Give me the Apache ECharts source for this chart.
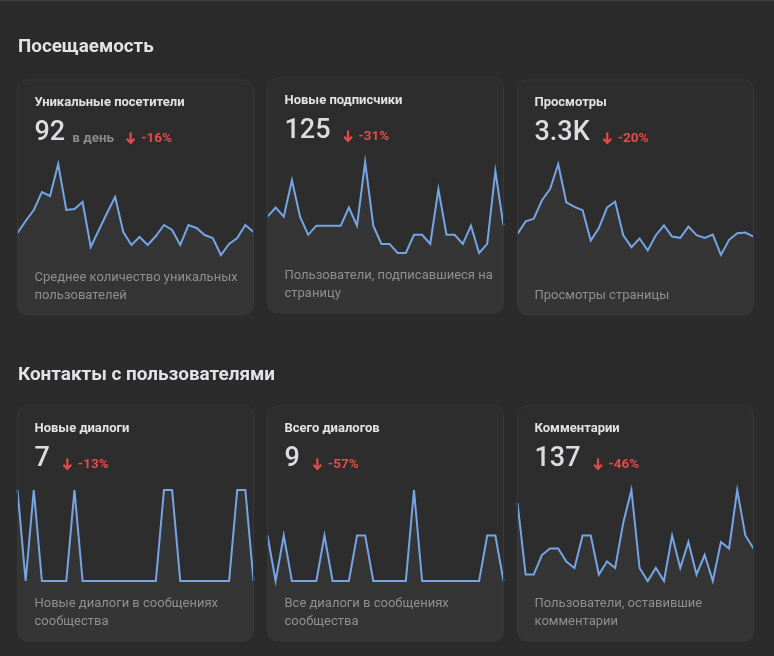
<!DOCTYPE html>
<html>
<head>
<meta charset="utf-8">
<script src="https://cdn.jsdelivr.net/npm/echarts@6/dist/echarts.min.js"></script>
<style>
html,body{margin:0;padding:0;background:#2b2b2b;}
#chart{width:774px;height:656px;}
</style>
</head>
<body>
<div id="chart"></div>
<script>
// ---- data ----
const sectionTitles = ['Посещаемость', 'Контакты с пользователями'];
const cardTitles = ['Уникальные посетители', 'Новые подписчики', 'Просмотры', 'Новые диалоги', 'Всего диалогов', 'Комментарии'];
const cardValues = ['92', '125', '3.3K', '7', '9', '137'];
const cardUnits = ['в день', '', '', '', '', ''];
const cardChanges = ['-16%', '-31%', '-20%', '-13%', '-57%', '-46%'];
const cardDescriptions = [
  ['Среднее количество уникальных', 'пользователей'],
  ['Пользователи, подписавшиеся на', 'страницу'],
  ['Просмотры страницы'],
  ['Новые диалоги в сообщениях', 'сообщества'],
  ['Все диалоги в сообщениях', 'сообщества'],
  ['Пользователи, оставившие', 'комментарии']
];
const days = ['1','2','3','4','5','6','7','8','9','10','11','12','13','14','15','16','17','18','19','20','21','22','23','24','25','26','27','28','29','30'];
const uniqueVisitors = [82,94,105,123,119,151,105,106,113,68,85,102,118,83,70,78,70,79,90,85,70,90,87,80,77,60,71,77,90,83];
const newSubscribers = [5,6,5,9,5,3,4,4,4,4,6,4,11,4,2,2,1,1,3,3,2,8,3,3,2,4,1,2,10,4];
const pageViews = [97,116,120,148,165,203,145,138,133,87,106,137,146,95,77,90,72,95,110,93,91,108,95,91,96,65,88,98,99,93];
const newDialogs = [1,0,1,0,0,0,0,1,0,0,0,0,0,0,0,0,0,0,1,1,0,0,0,0,0,0,0,1,1,0];
const totalDialogs = [1,0,1,0,0,0,0,1,0,0,0,1,1,0,0,0,0,0,2,0,0,0,0,0,0,0,0,1,1,0];
const comments = [12,1,1,4,5,5,3,2,7,7,1,3,2,9,14,2,0,2,0,7,2,6,1,4,0,6,5,14,7,5];
const seriesData = [uniqueVisitors, newSubscribers, pageViews, newDialogs, totalDialogs, comments];

// ---- layout / style ----
const PAGE_BG = '#2b2b2b';
const CARD_BG = '#2d2d2d';
const CARD_BORDER = '#383838';
const FILL = '#353535';
const LINE = '#75a5e4';
const TEXT = '#e1e3e6';
const MUTED = '#8f8f8f';
const RED = '#e64b4b';
const FONT = 'Roboto, "Noto Sans", sans-serif';
const CW = 236, CH = 235, R = 10;
const cards = [
  {x: 17.5, y: 80}, {x: 267.5, y: 78}, {x: 517.5, y: 80},
  {x: 17.5, y: 406}, {x: 267.5, y: 406}, {x: 517.5, y: 406}
];
const TOP_OFF = 84, LOW_OFF = 175;

const measureCtx = document.createElement('canvas').getContext('2d');
function textWidth(t, weight, size) {
  measureCtx.font = weight + ' ' + size + 'px ' + FONT;
  return measureCtx.measureText(t).width;
}

const chart = echarts.init(document.getElementById('chart'), null, {renderer: 'canvas'});

const grids = [], xAxes = [], yAxes = [], series = [], graphics = [];

graphics.push({type: 'rect', shape: {x: 0, y: 0, width: 774, height: 1.5}, style: {fill: '#3a3a3a'}, z: 0});
graphics.push({type: 'text', x: 18, y: 47, style: {text: sectionTitles[0], fill: TEXT, font: 'bold 18.8px ' + FONT, verticalAlign: 'middle'}, z: 20});
graphics.push({type: 'text', x: 18, y: 375, style: {text: sectionTitles[1], fill: TEXT, font: 'bold 18.9px ' + FONT, verticalAlign: 'middle'}, z: 20});

function cornerPoly(cx, cy, left) {
  // region outside the rounded bottom corner
  const pts = [];
  if (left) {
    pts.push([cx - 1, cy + CH - R]);
    pts.push([cx - 1, cy + CH + 1]);
    pts.push([cx + R, cy + CH + 1]);
    for (let k = 0; k <= 12; k++) {
      const a = Math.PI / 2 + (Math.PI / 2) * k / 12;
      pts.push([cx + R + R * Math.cos(a), cy + CH - R + R * Math.sin(a)]);
    }
  } else {
    pts.push([cx + CW + 1, cy + CH - R]);
    pts.push([cx + CW + 1, cy + CH + 1]);
    pts.push([cx + CW - R, cy + CH + 1]);
    for (let k = 0; k <= 12; k++) {
      const a = Math.PI / 2 - (Math.PI / 2) * k / 12;
      pts.push([cx + CW - R + R * Math.cos(a), cy + CH - R + R * Math.sin(a)]);
    }
  }
  return pts;
}

cards.forEach((c, i) => {
  const data = seriesData[i];
  const dMax = Math.max.apply(null, data), dMin = Math.min.apply(null, data);
  const k = (CH - LOW_OFF) / (LOW_OFF - TOP_OFF);
  grids.push({left: c.x, top: c.y + TOP_OFF, width: CW, height: CH - TOP_OFF, containLabel: false});
  xAxes.push({type: 'category', gridIndex: i, data: days, boundaryGap: false, show: false});
  yAxes.push({type: 'value', gridIndex: i, show: false, max: dMax, min: dMin - (dMax - dMin) * k});
  series.push({
    type: 'line', xAxisIndex: i, yAxisIndex: i, data: data,
    showSymbol: false, symbol: 'none', clip: false, z: 5,
    lineStyle: {color: LINE, width: 2, join: 'miter'},
    areaStyle: {color: FILL, opacity: 1, origin: 'start'},
    emphasis: {disabled: true}, silent: true
  });

  // card background and decorations
  graphics.push({type: 'rect', shape: {x: c.x, y: c.y, width: CW, height: CH, r: R}, style: {fill: CARD_BG}, z: 1});
  graphics.push({type: 'polygon', shape: {points: cornerPoly(c.x, c.y, true)}, style: {fill: PAGE_BG}, z: 30});
  graphics.push({type: 'polygon', shape: {points: cornerPoly(c.x, c.y, false)}, style: {fill: PAGE_BG}, z: 30});
  graphics.push({type: 'rect', shape: {x: c.x, y: c.y, width: CW, height: CH, r: R}, style: {fill: 'none', stroke: CARD_BORDER, lineWidth: 1}, z: 31});

  const tx = c.x + 17;
  graphics.push({type: 'text', x: tx, y: c.y + 22.5, style: {text: cardTitles[i], fill: TEXT, font: 'bold 13px ' + FONT, verticalAlign: 'middle'}, z: 40});

  const numW = textWidth(cardValues[i], 500, 27);
  graphics.push({type: 'text', x: tx, y: c.y + 53, style: {text: cardValues[i], fill: '#dcdde0', font: '500 27px ' + FONT, verticalAlign: 'middle'}, z: 40});
  let ax = tx + numW + 13;
  if (cardUnits[i]) {
    const ux = tx + numW + 7;
    const uw = textWidth(cardUnits[i], 'bold', 13.5);
    graphics.push({type: 'text', x: ux, y: c.y + 58.5, style: {text: cardUnits[i], fill: '#8a8a8a', font: 'bold 13.5px ' + FONT, verticalAlign: 'middle'}, z: 40});
    ax = ux + uw + 12;
  }
  // down arrow icon
  graphics.push({type: 'polyline', shape: {points: [[ax + 4.5, c.y + 52.5], [ax + 4.5, c.y + 63]]}, style: {stroke: RED, lineWidth: 2.2, fill: null}, z: 40});
  graphics.push({type: 'polyline', shape: {points: [[ax + 0.6, c.y + 58.8], [ax + 4.5, c.y + 62.8], [ax + 8.4, c.y + 58.8]]}, style: {stroke: RED, lineWidth: 2.2, fill: null}, z: 40});
  graphics.push({type: 'text', x: ax + 15, y: c.y + 58.5, style: {text: cardChanges[i], fill: RED, font: 'bold 13.5px ' + FONT, verticalAlign: 'middle'}, z: 40});

  const lines = cardDescriptions[i];
  lines.forEach((t, j) => {
    const yy = c.y + 215.3 - (lines.length - 1 - j) * 17.4;
    graphics.push({type: 'text', x: tx, y: yy, style: {text: t, fill: MUTED, font: '13px ' + FONT, verticalAlign: 'middle'}, z: 40});
  });
});

chart.setOption({
  backgroundColor: PAGE_BG,
  animation: false,
  grid: grids,
  xAxis: xAxes,
  yAxis: yAxes,
  series: series,
  graphic: {elements: graphics}
});
</script>
</body>
</html>
